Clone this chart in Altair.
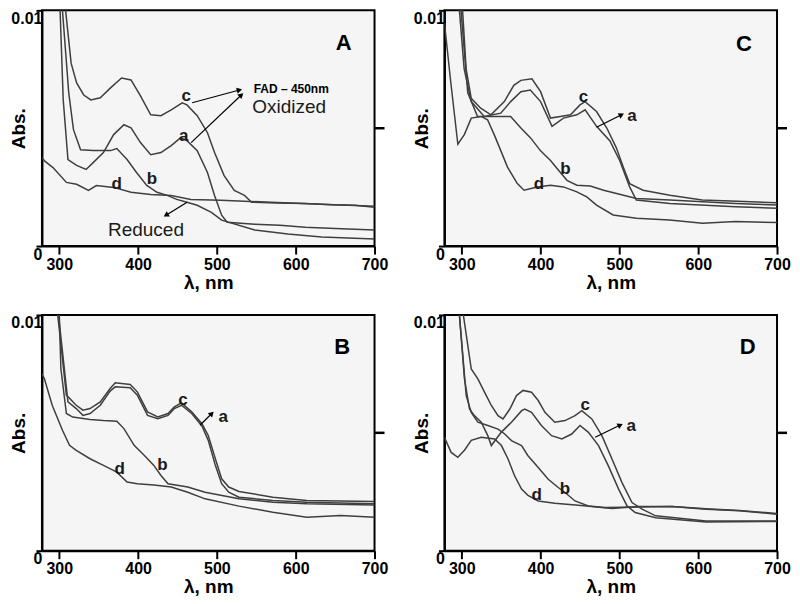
import math
import altair as alt
import pandas as pd

# ---------------- data (wavelength nm, absorbance in units of 0.001) ----------------
A_a_nm = [299, 301, 305, 311, 322, 334, 343, 356, 369, 382, 391, 403, 416, 429, 442, 454, 462, 475, 488, 497, 506, 513, 548, 580, 612, 650, 700]
A_a_mabs = [12.0, 10.0, 6.2, 3.67, 3.42, 3.25, 3.54, 3.97, 4.73, 5.15, 5.02, 4.39, 3.88, 3.97, 4.26, 4.60, 4.47, 4.05, 3.12, 2.15, 1.31, 1.01, 0.93, 0.88, 0.80, 0.75, 0.68]
A_b_nm = [301, 304, 312, 318, 327, 343, 365, 373, 386, 398, 411, 424, 437, 449, 462, 475, 493, 506, 548, 590, 633, 700]
A_b_mabs = [12.0, 10.0, 6.5, 4.94, 4.09, 4.05, 4.05, 4.14, 3.67, 3.12, 2.57, 2.28, 2.15, 1.98, 1.86, 1.73, 1.43, 1.10, 0.68, 0.51, 0.38, 0.30]
A_c_nm = [305, 308, 315, 322, 331, 340, 352, 365, 379, 391, 403, 416, 429, 442, 456, 462, 475, 488, 497, 509, 522, 535, 544, 575, 612, 645, 675, 700]
A_c_mabs = [12.0, 10.0, 7.76, 6.92, 6.41, 6.20, 6.29, 6.71, 7.13, 7.05, 6.37, 5.57, 5.53, 5.78, 6.08, 5.99, 5.53, 4.81, 3.97, 3.00, 2.36, 2.15, 1.86, 1.83, 1.81, 1.75, 1.73, 1.65]
A_d_nm = [278, 282, 292, 309, 322, 337, 347, 369, 391, 416, 442, 467, 505, 569, 633, 700]
A_d_mabs = [3.75, 3.59, 3.33, 2.70, 2.62, 2.36, 2.57, 2.49, 2.28, 2.19, 2.15, 1.98, 1.94, 1.86, 1.77, 1.69]

B_a_nm = [297, 299, 311, 321.5, 330, 339, 352, 364.5, 371, 390, 399, 412, 425, 438, 446, 455, 468, 481, 489, 498, 506, 515, 528, 571, 614, 700]
B_a_mabs = [11.0, 10.0, 6.31, 6.03, 5.74, 5.82, 6.17, 6.77, 6.95, 6.91, 6.60, 5.74, 5.60, 5.74, 6.03, 6.17, 5.82, 5.29, 4.68, 3.62, 2.84, 2.48, 2.27, 2.13, 2.06, 1.99]
B_b_nm = [298, 300, 302, 309, 317, 339, 356, 373, 382, 395, 408, 420, 429, 438, 463, 485, 528, 571, 614, 700]
B_b_mabs = [11.0, 10.0, 7.73, 5.82, 5.67, 5.57, 5.52, 5.49, 5.18, 4.47, 4.04, 3.62, 3.19, 2.84, 2.70, 2.48, 2.20, 2.06, 1.99, 1.94]
B_c_nm = [296, 298, 309, 321.5, 330, 339, 352, 364.5, 371, 390, 399, 412, 425, 438, 446, 455, 468, 481, 489, 498, 506, 515, 528, 571, 614, 700]
B_c_mabs = [11.0, 10.0, 6.60, 6.17, 5.96, 6.03, 6.31, 6.88, 7.12, 7.05, 6.74, 5.89, 5.67, 5.82, 6.10, 6.27, 5.89, 5.39, 4.89, 3.90, 3.05, 2.70, 2.51, 2.27, 2.13, 2.09]
B_d_nm = [278, 281, 291, 304, 313, 321.5, 339, 356, 373, 386, 399, 420, 442, 463, 485, 528, 571, 614, 657, 700]
B_d_mabs = [7.5, 7.30, 6.17, 5.11, 4.47, 4.26, 3.90, 3.62, 3.33, 2.91, 2.84, 2.79, 2.70, 2.48, 2.20, 1.89, 1.63, 1.42, 1.49, 1.42]

C_a_nm = [295, 297, 303, 312, 328.5, 349.5, 362, 375, 387, 400, 414.5, 429, 446, 456.5, 471, 488, 500.5, 513, 521.5, 564, 647.5, 700]
C_a_mabs = [11.0, 10.0, 7.52, 6.13, 5.50, 5.64, 6.13, 6.55, 6.62, 6.13, 5.08, 5.43, 5.57, 5.78, 5.08, 4.46, 3.62, 2.51, 1.95, 1.81, 1.67, 1.60]
C_b_nm = [297, 299, 307.6, 320, 341, 362, 375, 387, 400, 412.6, 423, 433.5, 446, 463, 480, 521.6, 564, 647.5, 700]
C_b_mabs = [11.0, 10.0, 6.5, 5.50, 5.50, 5.50, 5.01, 4.60, 4.04, 3.63, 3.21, 2.79, 2.58, 2.55, 2.37, 2.02, 1.95, 1.81, 1.74]
C_c_nm = [299, 301, 305.5, 312, 324, 337, 354, 366, 375, 389, 400, 412.5, 425, 438, 450, 456.5, 471, 484, 496, 505, 513, 530, 564, 605, 650, 700]
C_c_mabs = [11.0, 10.0, 7.52, 6.27, 5.85, 5.57, 6.13, 6.82, 7.03, 7.10, 6.55, 5.43, 5.50, 5.57, 5.99, 6.13, 5.71, 5.01, 4.18, 3.34, 2.65, 2.37, 2.16, 1.95, 1.90, 1.84]
C_d_nm = [278, 286, 295, 303.4, 312, 324.4, 332.7, 341, 349.6, 358, 370.5, 379, 395.7, 412.6, 429, 446, 458.6, 471, 492, 521.6, 563.6, 605.5, 647.5, 700]
C_d_mabs = [9.46, 6.96, 4.32, 4.74, 5.43, 5.50, 5.36, 4.74, 4.04, 3.35, 2.65, 2.37, 2.51, 2.58, 2.51, 2.30, 2.09, 1.74, 1.32, 1.18, 1.11, 0.97, 1.04, 1.00]

D_a_nm = [295, 297, 303.4, 309.8, 316, 324.7, 333, 337.5, 350, 363, 376, 380, 388.5, 401, 414, 427, 439.5, 450, 460.7, 473.5, 486, 499, 509.7, 520, 546, 610, 700]
D_a_mabs = [11.0, 10.0, 7.29, 6.01, 5.73, 5.45, 4.88, 4.46, 5.02, 5.45, 5.94, 6.01, 5.87, 5.31, 4.88, 4.74, 4.95, 5.31, 5.02, 4.46, 3.60, 2.61, 1.90, 1.62, 1.40, 1.22, 1.24]
D_b_nm = [295, 297, 305.6, 312, 320.4, 333, 346, 354.5, 363, 375.8, 384, 397, 409.7, 422.4, 431, 443.7, 460.7, 482, 524, 567, 610, 652, 700]
D_b_mabs = [11.0, 10.0, 6.58, 5.87, 5.45, 5.31, 5.16, 4.95, 4.67, 4.46, 4.03, 3.53, 3.03, 2.68, 2.47, 2.11, 1.90, 1.83, 1.85, 1.87, 1.78, 1.70, 1.58]
D_c_nm = [300, 302, 312, 320.4, 329, 337.5, 346, 352.3, 361, 369.4, 377.8, 388.5, 397, 405.5, 418, 431, 443.7, 452.3, 465, 477.8, 490.6, 503.3, 516, 528.8, 546, 610, 700]
D_c_mabs = [11.0, 10.0, 7.71, 7.29, 6.72, 6.16, 5.73, 5.59, 6.01, 6.58, 6.80, 6.72, 6.37, 5.87, 5.45, 5.52, 5.73, 5.94, 5.59, 4.88, 3.89, 2.89, 2.04, 1.76, 1.48, 1.26, 1.26]
D_d_nm = [278, 286.5, 295, 303.4, 312, 324.7, 341.7, 350.3, 358.7, 367, 375.8, 384, 397, 418, 448, 490.6, 524, 567, 610, 652, 700]
D_d_mabs = [4.81, 4.17, 3.96, 4.26, 4.68, 4.81, 4.74, 4.46, 3.89, 3.18, 2.61, 2.35, 2.11, 2.01, 1.93, 1.79, 1.87, 1.87, 1.76, 1.69, 1.55]

# curve labels: text, nm, mAbs
A_lab_txt = ["c", "a", "b", "d"]
A_lab_nm = [461, 458, 417.5, 372.8]
A_lab_mabs = [6.37, 4.68, 2.83, 2.62]
B_lab_txt = ["c", "a", "b", "d"]
B_lab_nm = [457, 508, 431, 376.6]
B_lab_mabs = [6.38, 5.67, 3.62, 3.48]
C_lab_txt = ["c", "a", "b", "d"]
C_lab_nm = [454.5, 516, 431.4, 397.8]
C_lab_mabs = [6.34, 5.50, 3.27, 2.65]
D_lab_txt = ["c", "a", "b", "d"]
D_lab_nm = [456.5, 515, 431, 394.9]
D_lab_mabs = [6.16, 5.31, 2.61, 2.35]

# panel letters
letters = ["A", "B", "C", "D"]
letter_nm = [661, 659, 658, 662.8]
letter_mabs = [8.6, 8.65, 8.57, 8.64]

# arrows: start (nm, mAbs) -> end (nm, mAbs)
A_arr_x1 = [468.6, 467.3, 462.2]
A_arr_y1 = [6.08, 4.39, 1.86]
A_arr_x2 = [528.6, 531.0, 435.4]
A_arr_y2 = [6.62, 6.41, 1.31]
B_arr_x1 = [478.5]; B_arr_y1 = [5.32]; B_arr_x2 = [493.5]; B_arr_y2 = [5.82]
C_arr_x1 = [471.0]; C_arr_y1 = [5.04]; C_arr_x2 = [502.7]; C_arr_y2 = [5.57]
D_arr_x1 = [469.3]; D_arr_y1 = [4.81]; D_arr_x2 = [501.1]; D_arr_y2 = [5.33]

# extra annotations in panel A
A_note_bold_txt = ["FAD – 450nm"]
A_note_bold_nm = [594.3]
A_note_bold_mabs = [6.68]
A_note_txt = ["Oxidized", "Reduced"]
A_note_nm = [591.8, 410]
A_note_mabs = [5.88, 0.68]

# the outward tick on the right edge of each panel
right_tick_nm = [700]
right_tick_mabs = [5.0]

# ---------------- chart ----------------
FONT = "Liberation Sans"
X_DOMAIN = [278, 700]
W, H = 333, 236
LINE_COLOR = "#3f3f3f"

xs = alt.Scale(domain=X_DOMAIN, nice=False, zero=False)
ys = alt.Scale(domain=[0, 0.01], nice=False, zero=False)

x_axis = alt.Axis(values=[300, 400, 500, 600, 700], format="d", title="λ, nm",
                  labelFont=FONT, labelFontWeight="bold", labelFontSize=16, labelColor="black",
                  labelFlush=False, labelPadding=2,
                  tickSize=8, tickWidth=2, tickColor="black",
                  domainColor="black", domainWidth=2, grid=False,
                  titleFont=FONT, titleFontSize=19, titleFontWeight="bold", titleColor="black",
                  titlePadding=1)
y_axis = alt.Axis(values=[0, 0.01], labelExpr="datum.value == 0 ? '0' : '0.01'", title="Abs.",
                  labelFont=FONT, labelFontWeight="bold", labelFontSize=16, labelColor="black",
                  labelBaseline="top", labelPadding=-6, labelFlush=False,
                  tickSize=6, tickWidth=2, tickColor="black",
                  domainColor="black", domainWidth=2, grid=False,
                  titleFont=FONT, titleFontSize=19, titleFontWeight="bold", titleColor="black",
                  titlePadding=-18)


def X(field):
    return alt.X(field, type="quantitative", scale=xs, axis=x_axis)


def Y(field):
    return alt.Y(field, type="quantitative", scale=ys, axis=y_axis)


def curves_df(curves):
    rows = []
    for name, (nm, mabs) in curves.items():
        for x, y in zip(nm, mabs):
            rows.append({"curve": name, "nm": x, "abs": y / 1000.0})
    return pd.DataFrame(rows)


def text_df(txt, nm, mabs):
    return pd.DataFrame({"txt": txt, "nm": nm, "abs": [v / 1000.0 for v in mabs]})


def arrow_df(x1, y1, x2, y2):
    sx = W / (X_DOMAIN[1] - X_DOMAIN[0])
    sy = H / 10.0
    angs = []
    for a, b, c, d in zip(x1, y1, x2, y2):
        dx = (c - a) * sx
        dy_up = (d - b) * sy
        angs.append(math.degrees(math.atan2(dx, dy_up)) % 360)
    return pd.DataFrame({"x1": x1, "y1": [v / 1000.0 for v in y1],
                         "x2": x2, "y2": [v / 1000.0 for v in y2], "ang": angs})


def panel(curves, lab, letter_idx, arrows, extra=None):
    df = curves_df(curves)
    lines = alt.Chart(df).mark_line(clip=True, strokeWidth=1.5, color=LINE_COLOR).encode(
        x=X("nm"), y=Y("abs"), detail="curve:N",
    )
    rt = alt.Chart(text_df([""], right_tick_nm, right_tick_mabs)).mark_tick(
        orient="horizontal", size=10, thickness=2.5, xOffset=5, color="black", opacity=1
    ).encode(x=X("nm"), y=Y("abs"))
    labels = alt.Chart(text_df(*lab)).mark_text(
        font=FONT, fontWeight="bold", fontSize=17, color="#1a1a1a", baseline="middle", align="center"
    ).encode(x=X("nm"), y=Y("abs"), text="txt:N")
    let_df = text_df([letters[letter_idx]], [letter_nm[letter_idx]], [letter_mabs[letter_idx]])
    letter = alt.Chart(let_df).mark_text(
        font=FONT, fontWeight="bold", fontSize=22, color="black", baseline="middle", align="center"
    ).encode(x=X("nm"), y=Y("abs"), text="txt:N")
    adf = arrow_df(*arrows)
    shafts = alt.Chart(adf).mark_rule(color="black", strokeWidth=1.2).encode(
        x=X("x1"), y=Y("y1"), x2="x2:Q", y2="y2:Q",
    )
    heads = alt.Chart(adf).mark_point(shape="triangle-up", filled=True, size=38, color="black", opacity=1).encode(
        x=X("x2"), y=Y("y2"), angle=alt.Angle("ang:Q", scale=None),
    )
    layers = [lines, rt, labels, letter, shafts, heads]
    if extra is not None:
        bold_df, norm_df = extra
        layers.append(alt.Chart(bold_df).mark_text(
            font=FONT, fontWeight="bold", fontSize=12, color="black", baseline="middle", align="center"
        ).encode(x=X("nm"), y=Y("abs"), text="txt:N"))
        layers.append(alt.Chart(norm_df).mark_text(
            font=FONT, fontSize=19, color="#1a1a1a", baseline="middle", align="center"
        ).encode(x=X("nm"), y=Y("abs"), text="txt:N"))
    return alt.layer(*layers).properties(width=W, height=H)


pA = panel({"a": (A_a_nm, A_a_mabs), "b": (A_b_nm, A_b_mabs), "c": (A_c_nm, A_c_mabs), "d": (A_d_nm, A_d_mabs)},
           (A_lab_txt, A_lab_nm, A_lab_mabs), 0, (A_arr_x1, A_arr_y1, A_arr_x2, A_arr_y2),
           extra=(text_df(A_note_bold_txt, A_note_bold_nm, A_note_bold_mabs),
                  text_df(A_note_txt, A_note_nm, A_note_mabs)))
pB = panel({"a": (B_a_nm, B_a_mabs), "b": (B_b_nm, B_b_mabs), "c": (B_c_nm, B_c_mabs), "d": (B_d_nm, B_d_mabs)},
           (B_lab_txt, B_lab_nm, B_lab_mabs), 1, (B_arr_x1, B_arr_y1, B_arr_x2, B_arr_y2))
pC = panel({"a": (C_a_nm, C_a_mabs), "b": (C_b_nm, C_b_mabs), "c": (C_c_nm, C_c_mabs), "d": (C_d_nm, C_d_mabs)},
           (C_lab_txt, C_lab_nm, C_lab_mabs), 2, (C_arr_x1, C_arr_y1, C_arr_x2, C_arr_y2))
pD = panel({"a": (D_a_nm, D_a_mabs), "b": (D_b_nm, D_b_mabs), "c": (D_c_nm, D_c_mabs), "d": (D_d_nm, D_d_mabs)},
           (D_lab_txt, D_lab_nm, D_lab_mabs), 3, (D_arr_x1, D_arr_y1, D_arr_x2, D_arr_y2))

chart = alt.concat(pA, pC, pB, pD, columns=2, spacing={"row": 69, "column": 70}, bounds="flush").properties(
    padding=0, background="white"
).configure_view(stroke="black", strokeWidth=2, fill="#f5f5f5")

chart.save("out.html", embed_options={"renderer": "svg", "actions": False})
